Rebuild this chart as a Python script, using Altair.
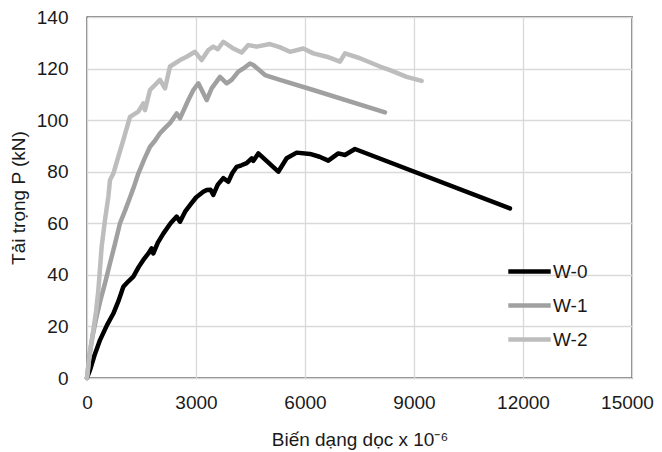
import altair as alt
import pandas as pd

# ---- data ----
w0_x = [0, 83, 200, 358, 550, 725, 870, 1000, 1140, 1275, 1420, 1550, 1700, 1780, 1826, 1950, 2100, 2300,
        2468, 2560, 2700, 2835, 3000, 3200, 3294, 3400, 3476, 3600, 3751, 3889, 4000, 4120, 4250, 4395,
        4533, 4580, 4715, 5265, 5495, 5771, 6137, 6400, 6641, 6916, 7100, 7375, 11641]
w0_y = [0, 3.1, 8.5, 14.7, 20.5, 25, 30, 35.4, 37.5, 39.3, 43, 45.8, 48.5, 50.3, 48.3, 52.5, 56, 60,
        62.6, 60.6, 64.5, 67, 70, 72.2, 72.9, 73, 71, 75, 77.5, 76.1, 79.5, 81.9, 82.5, 83.3,
        85.2, 84.2, 87.1, 80, 85.2, 87.4, 86.9, 85.8, 84.3, 87.1, 86.5, 88.8, 65.8]

w1_x = [0, 60, 150, 250, 358, 500, 633, 770, 908, 1050, 1183, 1300, 1412, 1580, 1734, 1870, 2009, 2150, 2284,
        2468, 2560, 2789, 2927, 3064, 3294, 3431, 3660, 3844, 3982, 4165, 4350, 4486, 4577, 4899, 5311,
        6228, 8201]
w1_y = [0, 8, 16, 23, 29.5, 37, 44.5, 52, 60, 65, 70, 74.5, 79.3, 85, 89.7, 92, 94.9, 97, 98.8,
        102.6, 100.7, 107.8, 111.7, 114.3, 107.8, 112.3, 116.8, 114.3, 115.6, 118.8, 120.5, 122, 121.4,
        117.5, 115.6, 111.7, 103]

w2_x = [0, 80, 174, 250, 312, 404, 495, 587, 633, 725, 862, 1000, 1183, 1412, 1550, 1596, 1734, 2009,
        2147, 2284, 2560, 2743, 2972, 3156, 3339, 3476, 3600, 3751, 4000, 4257, 4440, 4670, 5036, 5300,
        5587, 5954, 6228, 6600, 6963, 7100, 7513, 8063, 8339, 8798, 9210]
w2_y = [0, 10, 18.6, 26, 34, 51, 61.3, 70.3, 76.8, 79.3, 85.8, 92.3, 101.3, 103.3, 106.5, 103.9, 111.7,
        115.6, 112.3, 120.8, 123.3, 124.6, 126.5, 123.3, 127.2, 128.5, 127.5, 130.4, 128, 126.2, 129.1,
        128.5, 129.5, 128.3, 126.5, 127.8, 125.9, 124.6, 122.7, 125.9, 124, 120.8, 119.4, 116.8, 115.2]

series_names = ["W-0", "W-1", "W-2"]
series_colors = ["#000000", "#a0a0a0", "#bdbdbd"]
series_widths = [4.5, 4.5, 3.5]

x_ticks = [0, 3000, 6000, 9000, 12000, 15000]
y_ticks = [0, 20, 40, 60, 80, 100, 120, 140]

rows = []
for name, xs, ys in zip(series_names, [w0_x, w1_x, w2_x], [w0_y, w1_y, w2_y]):
    for i, (xv, yv) in enumerate(zip(xs, ys)):
        rows.append({"series": name, "i": i, "x": xv, "y": yv})
df = pd.DataFrame(rows)

FONT = "Liberation Sans"
FS = 19
TXT = "#1a1a1a"

chart = alt.Chart(df).mark_line(strokeCap="round", strokeJoin="round").encode(
    x=alt.X("x:Q", scale=alt.Scale(domain=[0, 15000], nice=False),
            axis=alt.Axis(values=x_ticks, title="Biến dạng dọc x 10⁻⁶", format="d",
                          grid=True, gridColor="#d9d9d9", gridWidth=1.3,
                          ticks=False, domain=False, labelPadding=15, labelFlush=False,
                          labelOffset=alt.condition("datum.value == 15000", alt.value(-5), alt.value(0)),
                          labelFontSize=FS, titleFontSize=FS, titleFontWeight="normal",
                          labelColor=TXT, titleColor=TXT, titlePadding=18,
                          labelFont=FONT, titleFont=FONT)),
    y=alt.Y("y:Q", scale=alt.Scale(domain=[0, 140], nice=False),
            axis=alt.Axis(values=y_ticks, title="Tải trọng P (kN)",
                          grid=True, gridColor="#d9d9d9", gridWidth=1.3,
                          ticks=False, domain=False, labelPadding=19, labelFlush=False,
                          labelFontSize=FS, titleFontSize=FS, titleFontWeight="normal",
                          labelColor=TXT, titleColor=TXT, titlePadding=8,
                          labelFont=FONT, titleFont=FONT)),
    color=alt.Color("series:N",
                    scale=alt.Scale(domain=series_names, range=series_colors),
                    legend=alt.Legend(title=None, orient="none", legendX=419, legendY=231,
                                      symbolType="stroke", symbolSize=1800,
                                      labelFontSize=FS, labelFont=FONT, labelColor=TXT,
                                      rowPadding=-6, labelOffset=0)),
    strokeWidth=alt.StrokeWidth("series:N",
                                scale=alt.Scale(domain=series_names, range=series_widths),
                                legend=None),
    order="i:Q",
).properties(
    width=545, height=361,
    autosize=alt.AutoSizeParams(type="none"),
    padding={"left": 79, "top": 9, "right": 22, "bottom": 72},
).configure_view(
    stroke="#000", strokeWidth=1.3
).configure_legend(
    symbolStrokeWidth=4.5
)

chart.save("out.html", embed_options={"renderer": "svg", "actions": False})
